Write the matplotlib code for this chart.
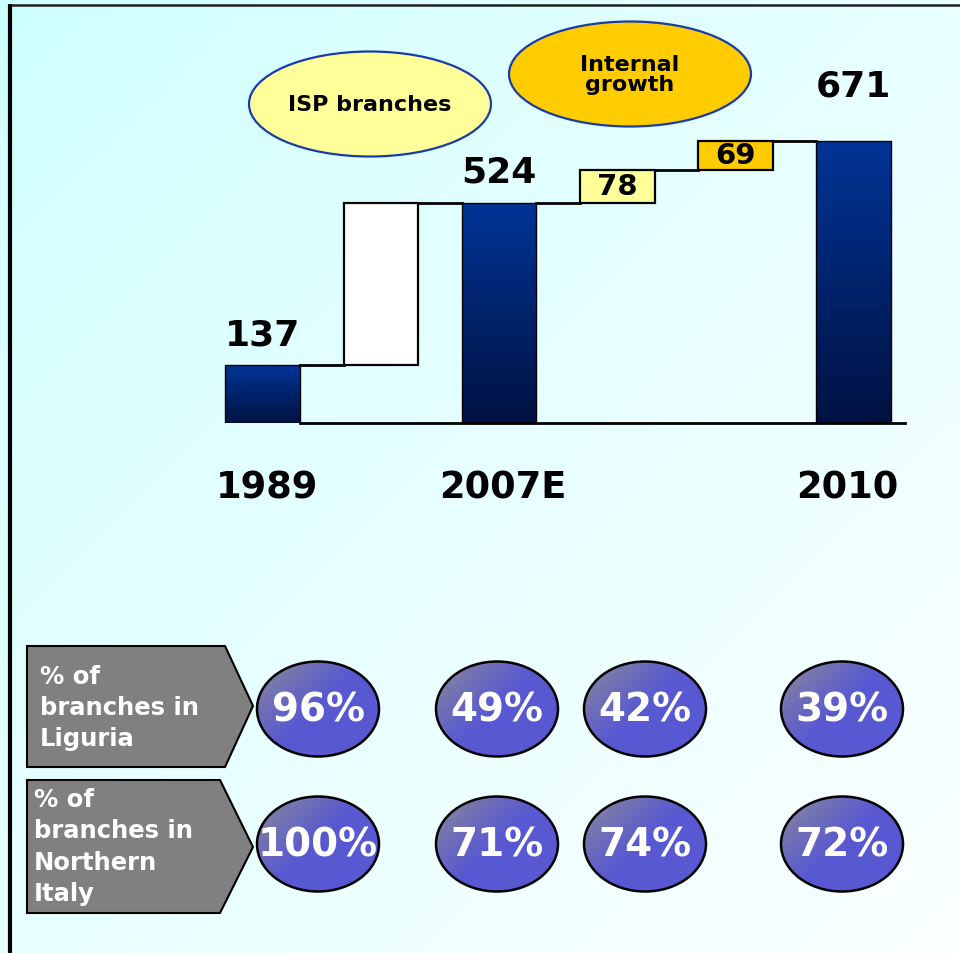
import numpy as np
import matplotlib
matplotlib.use("Agg")
import matplotlib.pyplot as plt
from matplotlib.patches import Ellipse, Polygon

plt.rcParams['font.family'] = ['DejaVu Sans']

# ---------------- data ----------------
branches_1989 = 137
branches_2007 = 524
isp_branches = 78
internal_growth = 69
branches_2010 = 671
year_labels = ["1989", "2007E", "2010"]
legend_labels = ["ISP branches", "Internal\ngrowth"]
row_labels = ["% of\nbranches in\nLiguria", "% of\nbranches in\nNorthern\nItaly"]
pct_liguria = [96, 49, 42, 39]
pct_north = [100, 71, 74, 72]

# derived waterfall steps
step_bottoms = [0, branches_1989, 0, branches_2007, branches_2007 + isp_branches, 0]
step_heights = [branches_1989, branches_2007 - branches_1989, branches_2007,
                isp_branches, internal_growth, branches_2010]
step_kind = ["total", "white", "total", "isp", "internal", "total"]
value_labels = {0: branches_1989, 2: branches_2007, 5: branches_2010}
year_idx = [0, 2, 5]

W, H = 960, 954
fig = plt.figure(figsize=(9.6, 9.54), dpi=100)

# ---------------- background gradient ----------------
ax_bg = fig.add_axes([0, 0, 1, 1], zorder=0)
ax_bg.axis('off')
yy, xx = np.mgrid[0:1:200j, 0:1:200j]
t = ((xx + yy) / 2.0) ** 0.75
c0 = np.array([204, 255, 255]) / 255
c1 = np.array([250, 255, 255]) / 255
img = c0[None, None, :] * (1 - t[..., None]) + c1[None, None, :] * t[..., None]
ax_bg.imshow(img, extent=(0, 1, 0, 1), origin='upper', aspect='auto')
ax_bg.set_xlim(0, 1)
ax_bg.set_ylim(0, 1)

# ---------------- overlay (pixel coords) ----------------
ax_o = fig.add_axes([0, 0, 1, 1], zorder=1)
ax_o.patch.set_alpha(0)
ax_o.axis('off')

# border lines
ax_o.plot([8, W], [6, 6], color='#202020', lw=1.8, solid_capstyle='butt')
ax_o.plot([9.5, 9.5], [5, H], color='black', lw=3.0, solid_capstyle='butt')

# legend ellipses
ell_specs = [((370, 105), '#ffff99'), ((630, 75), '#ffcc00')]
for (c, fc), lab in zip(ell_specs, legend_labels):
    e = Ellipse(c, 242, 105, facecolor=fc, edgecolor='#1a3ca8', lw=1.6)
    ax_o.add_patch(e)
    ax_o.text(c[0], c[1], lab, ha='center', va='center', fontsize=16,
              fontweight='bold', color='black', linespacing=1.05)

# row label arrow boxes
arrow_specs = [
    ([(27, 647), (225, 647), (253, 707), (225, 768), (27, 768)], (40, 708)),
    ([(27, 781), (220, 781), (253, 848), (220, 914), (27, 914)], (34, 847)),
]
for (pts, tpos), lab in zip(arrow_specs, row_labels):
    ax_o.add_patch(Polygon(pts, closed=True, facecolor='#808080',
                           edgecolor='black', lw=1.5))
    ax_o.text(tpos[0], tpos[1], lab, ha='left', va='center', fontsize=17.5,
              fontweight='bold', color='white', linespacing=1.38)

# percentage ellipses with gradient
n = 120
gy, gx = np.mgrid[0:1:n * 1j, 0:1:n * 1j]
tt = np.clip(1.0 - (gx * 1.1 + gy * 0.9) * 1.0, 0, 1) ** 1.1
gray = np.array([140, 140, 150]) / 255
blue = np.array([88, 88, 210]) / 255
circ_img = blue[None, None, :] * (1 - tt[..., None]) + gray[None, None, :] * tt[..., None]

col_x = [318, 497, 645, 842]
row_y = [710, 845]
cw, ch = 122, 95
for ry, vals in zip(row_y, [pct_liguria, pct_north]):
    for cx, v in zip(col_x, vals):
        e = Ellipse((cx, ry), cw, ch, facecolor='none', edgecolor='black', lw=1.8)
        ax_o.add_patch(e)
        im = ax_o.imshow(circ_img, extent=(cx - cw / 2, cx + cw / 2, ry + ch / 2, ry - ch / 2),
                         origin='upper', aspect='auto', zorder=1)
        im.set_clip_path(e)
        e.set_zorder(2)
        ax_o.text(cx, ry + 1, f"{v}%", ha='center', va='center', fontsize=28,
                  fontweight='bold', color='white', zorder=3)

ax_o.set_xlim(0, W)
ax_o.set_ylim(H, 0)

# ---------------- waterfall ----------------
ax = fig.add_axes([200 / W, (H - 424) / H, 710 / W, 364 / H], zorder=2)
ax.set_facecolor('none')
ax.axis('off')
x = np.arange(len(step_heights))
w = 0.63

bar_grad = np.array([np.linspace(0, 0, 100),
                     np.linspace(52, 18, 100),
                     np.linspace(150, 66, 100)]).T[:, None, :] / 255

face = {"white": "white", "isp": "#ffff99", "internal": "#ffcc00"}
for i, (b, h, k) in enumerate(zip(step_bottoms, step_heights, step_kind)):
    if k == "total":
        bars = ax.bar(x[i], h, bottom=b, width=w, color='none',
                      edgecolor='black', lw=1.0, zorder=3)
        p = bars[0]
        im = ax.imshow(bar_grad, extent=(x[i] - w / 2, x[i] + w / 2, b, b + h),
                       origin='upper', aspect='auto', zorder=2)
        im.set_clip_path(p)
    else:
        ax.bar(x[i], h, bottom=b, width=w, color=face[k],
               edgecolor='black', lw=1.6, zorder=3)

# connectors
tops = [b + h for b, h in zip(step_bottoms, step_heights)]
for i in range(len(x) - 1):
    ax.plot([x[i] + w / 2, x[i + 1] - w / 2], [tops[i], tops[i]],
            color='black', lw=2.0, zorder=4, clip_on=False)
# baseline
ax.plot([x[0] + w / 2, x[-1] + w / 2 + 0.12], [0, 0], color='black', lw=2.0,
        zorder=4, clip_on=False)

# value labels
offsets = {0: 14, 2: 14, 5: 38}
for i, v in value_labels.items():
    ax.annotate(str(v), (x[i], tops[i]), xytext=(0, offsets[i]),
                textcoords='offset pixels', ha='center', va='bottom',
                fontsize=26, fontweight='bold', zorder=5)
# step labels inside boxes
for i, v in [(3, isp_branches), (4, internal_growth)]:
    ax.text(x[i], step_bottoms[i] + step_heights[i] / 2, str(v), ha='center',
            va='center', fontsize=21, fontweight='bold', zorder=5)

# year labels
for i, lab in zip(year_idx, year_labels):
    ax.annotate(lab, (x[i], 0), xytext=(4 if i < 5 else -6, -64),
                textcoords='offset pixels', ha='center', va='center',
                fontsize=26.5, fontweight='bold', annotation_clip=False)

ax.set_xlim((200 - 262.7) / 118.2, (910 - 262.7) / 118.2)
ax.set_ylim(0, 866)

fig.savefig("out.png", dpi=100)
